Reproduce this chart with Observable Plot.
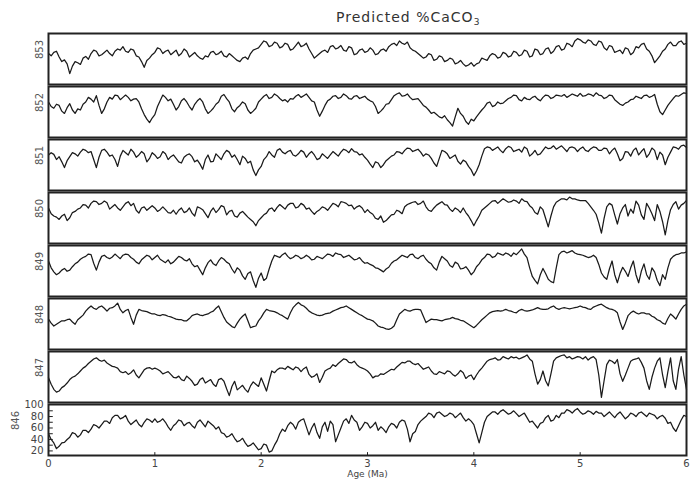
<!DOCTYPE html>
<html><head><meta charset="utf-8">
<script src="https://cdn.jsdelivr.net/npm/d3@7"></script>
<script src="https://cdn.jsdelivr.net/npm/@observablehq/plot@0.6"></script>
<style>
body{margin:0;background:#fff;}
#title{position:relative;height:30px;width:691px;font-family:"DejaVu Sans",sans-serif;}
#title span{position:absolute;left:336px;top:9px;font-size:14px;letter-spacing:1px;color:#333;line-height:16px;white-space:nowrap;}
#title sub{font-size:9px;vertical-align:-3px;letter-spacing:0;}
</style></head><body>
<div id="title"><span>Predicted %CaCO<sub>3</sub></span></div>
<div id="chart"></div>
<script>
const sites = [853, 852, 851, 850, 849, 848, 847, 846];
const step = 0.05; // spacing of the main readings (Ma); the "m" lists are readings halfway between them
const s853 = [66,68,60,55,31,52,47,61,66,70,64,72,62,74,78,68,72,60,42,58,
  68,74,70,64,72,66,70,64,62,56,60,70,66,62,66,58,52,60,66,74,
  82,86,80,84,78,82,74,86,80,74,58,66,72,78,74,80,70,76,66,74,
  70,72,66,74,78,84,88,82,76,70,62,60,64,56,60,54,56,50,48,46,
  44,50,56,62,64,60,66,62,68,64,70,62,72,66,76,70,80,74,82,88,
  90,84,88,80,86,72,78,70,66,74,68,76,84,70,50,62,74,86,80,88,84];
const m853 = [62,70,52,48,44,50,58,56,72,62,68,66,70,72,70,74,62,52,54,64,
  76,66,72,68,62,74,60,68,58,62,68,64,70,60,62,54,58,56,72,76,
  88,78,86,76,84,72,80,78,84,66,62,70,68,80,76,72,78,64,72,68,
  76,64,72,70,82,80,84,86,72,66,58,66,54,62,52,58,48,54,44,50,
  48,58,54,66,58,68,60,70,62,72,60,74,64,74,66,78,72,84,78,92,
  86,90,82,88,76,80,68,72,76,64,78,82,74,62,56,70,82,80,86,82];
const s852 = [74,63,68,54,71,54,60,74,79,85,54,74,79,85,82,82,79,74,52,38,
  52,76,82,79,60,76,74,60,76,74,54,63,74,87,74,57,68,71,54,63,
  79,87,82,85,76,74,79,87,85,82,74,49,68,79,85,82,85,79,85,82,
  79,74,54,63,71,85,90,85,82,79,74,65,54,52,46,43,32,63,49,35,
  41,54,65,74,68,71,76,82,85,76,79,82,79,82,85,82,85,87,85,86,
  89,85,87,90,85,82,85,74,68,74,79,82,85,82,87,57,60,74,85,87,89];
const m852 = [66,70,58,64,60,62,70,82,74,68,62,82,86,78,86,76,80,62,44,46,
  66,86,76,70,66,80,66,70,80,62,58,70,84,80,62,64,74,60,58,74,
  84,80,88,80,78,80,84,82,88,76,60,58,76,84,80,88,80,84,80,84,
  76,66,58,70,78,88,84,88,78,80,68,60,56,48,50,38,48,54,40,44,
  48,60,72,66,74,72,80,86,78,82,78,84,76,86,80,86,84,82,88,84,
  84,88,84,86,80,86,78,70,72,78,84,80,86,84,70,52,68,80,84,90];
const s851 = [74,75,71,52,71,76,79,82,80,52,82,79,74,54,82,74,79,74,76,68,
  74,71,76,71,68,60,74,71,65,49,74,63,71,76,79,74,57,68,63,38,
  54,71,74,82,79,80,74,76,79,76,74,68,72,74,76,79,82,85,79,76,
  65,52,60,57,68,74,79,82,85,82,79,76,68,54,82,76,71,63,65,54,
  38,57,85,87,85,82,85,87,82,79,85,76,74,82,85,90,87,85,87,86,
  85,82,85,87,82,85,82,76,68,79,82,74,85,76,82,79,57,79,87,90,87];
const m851 = [78,66,62,64,78,72,84,78,66,70,84,72,66,72,78,84,70,80,62,78,
  68,80,66,74,62,70,76,62,58,66,62,76,66,82,70,66,72,60,48,48,
  66,80,70,85,76,82,72,82,70,80,66,76,68,80,72,84,78,80,74,70,
  58,62,52,64,72,80,76,86,80,84,72,74,60,68,80,68,74,58,62,48,
  46,72,88,82,88,78,89,80,84,88,72,82,76,88,86,84,90,80,88,80,
  88,80,88,82,86,76,86,64,80,72,86,80,70,86,66,74,70,88,84,91];
const s850 = [74,60,54,63,57,68,74,79,82,85,82,83,76,74,76,85,82,65,76,74,
  74,71,71,65,63,74,68,65,76,71,57,74,71,76,68,60,65,63,54,43,
  57,65,74,75,76,79,82,76,79,74,63,71,74,76,80,85,82,79,76,74,
  71,63,54,49,57,63,68,76,82,85,82,76,68,79,85,79,68,71,74,60,
  43,60,74,82,87,86,87,85,86,90,85,74,63,71,41,76,87,90,93,90,
  87,87,76,63,30,76,79,46,74,60,65,79,54,74,52,68,27,71,85,79,87];
const m850 = [64,58,60,52,66,72,80,74,86,80,86,72,80,70,82,78,70,74,70,78,
  68,76,66,70,70,66,74,60,74,64,68,66,78,62,70,58,68,58,50,52,
  62,72,68,80,72,82,74,82,72,68,68,76,70,82,76,84,78,72,78,66,
  66,56,60,52,62,70,64,80,84,80,86,70,74,82,80,72,74,66,66,52,
  52,70,78,86,82,90,84,88,82,86,78,66,76,56,60,84,90,88,90,88,
  87,82,70,48,56,82,62,64,80,72,86,62,82,64,80,50,52,80,72,82];
const s849 = [74,55,53,61,58,69,77,82,85,58,82,80,81,82,84,85,77,69,80,82,
  80,77,71,69,77,80,74,69,66,50,71,69,74,77,69,53,58,42,55,28,
  53,44,74,82,85,82,80,82,80,81,77,80,82,85,88,85,82,80,77,74,
  71,66,61,55,63,74,80,82,85,80,82,77,69,58,82,74,63,69,61,58,
  55,69,80,85,82,86,88,82,85,95,80,47,34,61,42,36,85,91,90,88,
  85,82,81,80,53,42,74,36,63,47,74,36,69,42,55,31,42,77,85,88,90];
const m849 = [62,50,58,56,64,72,80,86,70,72,84,78,86,78,86,80,72,76,84,76,
  84,74,76,72,82,76,78,64,58,62,76,66,80,72,60,62,48,52,40,44,
  40,60,84,80,88,78,84,78,84,76,82,78,86,82,86,80,84,76,80,70,
  68,62,58,60,70,76,84,80,86,78,84,72,62,72,78,66,72,60,64,50,
  64,76,86,80,88,84,86,88,90,86,62,40,50,52,38,62,90,88,92,86,
  84,80,84,68,46,60,50,52,56,62,50,56,50,62,40,50,62,82,86,88];
const s848 = [65,53,59,62,65,56,68,79,88,82,88,79,85,93,76,82,56,82,79,76,
  74,71,72,69,65,64,62,71,74,71,74,79,88,68,56,50,65,74,50,53,
  68,82,79,76,71,65,85,94,88,79,74,71,74,76,81,85,88,82,76,71,
  65,62,53,50,47,53,74,82,79,82,81,59,65,64,62,65,68,65,62,56,
  50,59,68,76,79,79,82,79,76,82,79,81,85,82,83,88,82,85,83,85,
  88,85,82,88,91,85,82,76,47,71,79,74,76,74,68,62,56,74,65,82,91];
const m848 = [58,56,62,64,60,64,72,84,84,86,84,84,88,82,80,68,72,80,78,74,
  72,73,70,67,64,62,66,73,72,73,77,84,78,60,52,58,70,62,52,62,
  76,80,78,73,68,76,90,90,84,76,72,72,75,79,83,86,85,79,73,68,
  64,58,51,48,49,64,78,80,81,82,70,62,64,63,64,66,66,63,59,53,
  54,64,72,78,80,80,80,77,80,80,80,83,83,82,86,84,84,84,84,86,
  86,83,86,90,88,83,80,60,58,76,76,76,74,70,64,58,66,70,74,88];
const s847 = [55,35,32,41,52,58,67,75,84,90,84,81,75,72,64,61,69,55,69,73,
  72,67,64,61,55,52,58,49,44,55,49,44,52,49,24,49,38,35,41,44,
  55,32,67,69,72,75,69,72,71,61,58,47,67,72,75,84,87,81,78,72,
  67,55,58,61,67,69,78,81,84,78,75,72,67,61,64,67,61,62,64,58,
  52,67,78,87,90,87,90,92,91,90,95,84,44,67,41,84,92,95,92,90,
  91,92,90,87,21,78,84,87,49,72,87,90,72,35,72,90,38,90,35,92,35];
const m847 = [44,30,38,46,56,62,72,80,88,86,86,78,74,66,66,64,60,62,72,70,
  70,62,66,56,58,50,54,42,52,46,52,40,54,36,40,34,42,30,48,40,
  44,50,64,72,70,72,74,66,74,56,62,56,70,78,80,88,82,84,74,70,
  62,58,62,64,70,74,82,84,80,80,70,74,62,66,62,66,58,68,54,60,
  60,72,84,88,86,92,88,90,88,92,88,62,52,50,62,90,94,90,88,92,
  88,86,92,60,50,86,80,62,60,84,88,82,50,56,84,60,66,50,70,60];
const s846 = [50,34,28,35,44,50,48,56,58,64,66,72,78,82,78,72,70,66,70,74,
  76,72,70,56,68,72,68,64,70,68,72,64,62,50,46,42,38,34,30,28,
  24,30,20,38,58,64,66,70,76,48,68,42,70,72,36,60,76,82,70,62,
  68,64,56,58,62,66,70,72,36,54,72,80,84,86,84,82,84,82,78,76,
  66,34,70,84,88,89,88,86,85,83,78,72,60,70,82,74,78,86,90,91,
  88,86,88,89,86,84,83,84,82,80,84,86,84,86,82,80,77,70,54,74,80];
const m846 = [40,24,34,40,52,44,56,52,66,60,72,68,82,76,82,66,74,62,76,70,
  70,76,62,64,74,64,70,60,74,62,68,58,52,44,50,36,42,28,34,22,
  32,18,30,50,54,70,58,74,62,60,52,62,54,66,48,72,68,74,56,70,
  60,70,62,52,68,60,74,58,50,66,76,86,78,88,80,86,78,86,72,72,
  50,52,80,88,84,92,84,90,80,86,70,66,68,78,72,82,86,92,86,94,
  84,90,84,86,80,88,78,88,76,86,80,88,80,84,76,82,68,60,64,82];
const xTicks = [0, 1, 2, 3, 4, 5, 6];
const yTicks = [20, 40, 60, 80, 100];
const yMinor = [20, 30, 40, 50, 60, 70, 80, 90];
const xLabel = "Age (Ma)";

const main = {853: s853, 852: s852, 851: s851, 850: s850, 849: s849, 848: s848, 847: s847, 846: s846};
const mids = {853: m853, 852: m852, 851: m851, 850: m850, 849: m849, 848: m848, 847: m847, 846: m846};
const rows = sites.flatMap(site => {
  const out = [];
  main[site].forEach((v, i) => {
    out.push({site, age: i * step, v});
    if (i < mids[site].length && i < main[site].length - 1) out.push({site, age: (i + 0.5) * step, v: mids[site][i]});
  });
  return out;
});
const bottomSite = () => 846;

const plot = Plot.plot({
  width: 691, height: 455,
  marginLeft: 48, marginRight: 5, marginTop: 1, marginBottom: 28,
  style: {fontFamily: "'DejaVu Sans', sans-serif", fontSize: "10px", color: "#444", background: "#fff"},
  x: {domain: [0, 6], ticks: xTicks, tickSize: 0, tickPadding: 4, tickFormat: d => String(d), label: null},
  y: {domain: [12, 101], axis: null},
  fy: {domain: sites, axis: null, paddingInner: 0.03, paddingOuter: 0},
  marks: [
    Plot.line(rows, {x: "age", y: "v", fy: "site", stroke: "#1a1a1a", strokeWidth: 1.25}),
    Plot.frame({stroke: "#222", strokeWidth: 2}),
    Plot.ruleY(yMinor, {y: d => d, x1: () => 0, x2: () => 0.045, fy: bottomSite, stroke: "#222"}),
    Plot.ruleX(xTicks.slice(1, 6), {x: d => d, y1: () => 12, y2: () => 17, fy: bottomSite, stroke: "#222"}),
    Plot.text(yTicks, {x: () => 0, y: d => d, fy: bottomSite, text: d => String(d), textAnchor: "end", dx: -5, fill: "#444"}),
    Plot.text(sites.filter(s => s !== 846), {fy: d => d, text: d => String(d), frameAnchor: "left", rotate: -90, dx: -9, fill: "#555"}),
    Plot.text([846], {fy: d => d, text: d => String(d), frameAnchor: "left", rotate: -90, dx: -33, fill: "#555"}),
    Plot.text([xLabel], {x: () => 3, fy: bottomSite, frameAnchor: "bottom", dy: 21, text: d => d, fontSize: 9, fill: "#444"})
  ]
});
document.getElementById("chart").append(plot);
</script>
</body></html>
